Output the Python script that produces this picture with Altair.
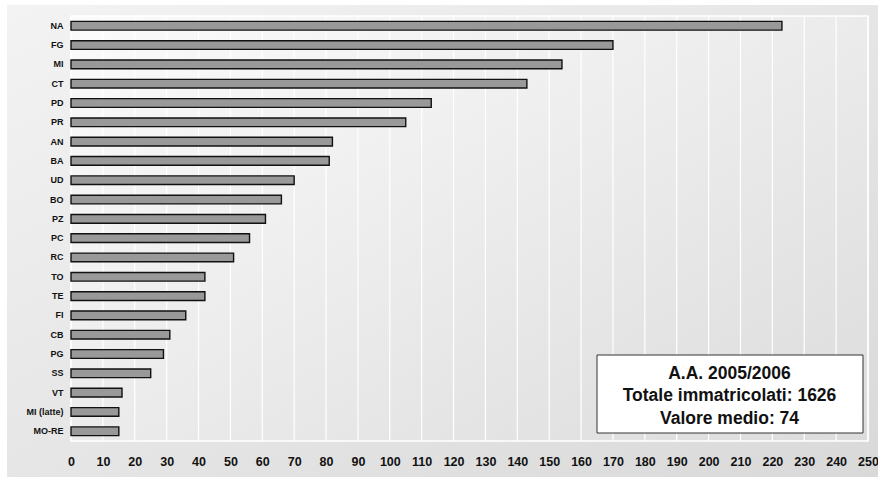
import altair as alt
import pandas as pd

# Immatricolati per sede, A.A. 2005/2006
sedi = ["NA", "FG", "MI", "CT", "PD", "PR", "AN", "BA", "UD", "BO", "PZ",
        "PC", "RC", "TO", "TE", "FI", "CB", "PG", "SS", "VT", "MI (latte)", "MO-RE"]
immatricolati = [223, 170, 154, 143, 113, 105, 82, 81, 70, 66, 61,
                 56, 51, 42, 42, 36, 31, 29, 25, 16, 15, 15]
tick_values = list(range(0, 251, 10))
info_lines = ["A.A. 2005/2006", "Totale immatricolati: 1626", "Valore medio: 74"]

W, H = 797, 425
FONT = "Liberation Sans"
NARROW = "Liberation Sans Narrow, Arial Narrow, Liberation Sans"

bars_df = pd.DataFrame({"sede": sedi, "n": immatricolati})
grid_df = pd.DataFrame({"v": tick_values})
info_df = pd.DataFrame({"line": info_lines, "row": [0, 1, 2]})

x_scale = alt.Scale(domain=[0, 250], nice=False, zero=True)
y_scale = alt.Scale(domain=sedi, paddingInner=0.55, paddingOuter=0.28)

x_axis = alt.Axis(values=tick_values, title=None, grid=False, domain=False,
                  ticks=False, labelFont=NARROW, labelFontSize=12.5,
                  labelFontWeight="bold", labelColor="#111111",
                  labelPadding=14, labelOverlap=False, labelFlush=False,
                  zindex=2)
y_axis = alt.Axis(title=None, grid=False, domain=False, ticks=False,
                  labelFont=FONT, labelFontSize=9, labelFontWeight="bold",
                  labelColor="#111111", labelPadding=8, labelOverlap=False,
                  zindex=2)

one = alt.Data(values=[{}])

outer_fill = alt.Gradient(
    gradient="linear", x1=0, y1=0, x2=1, y2=1,
    stops=[alt.GradientStop(color="#f3f3f3", offset=0),
           alt.GradientStop(color="#d9d9d9", offset=1)],
)
plot_fill = alt.Gradient(
    gradient="linear", x1=0, y1=0, x2=1, y2=1,
    stops=[alt.GradientStop(color="#fbfbfb", offset=0),
           alt.GradientStop(color="#dcdcdc", offset=1)],
)

outer = alt.Chart(one).mark_rect(fill=outer_fill, clip=False).encode(
    x=alt.value(-64), x2=alt.value(W + 10), y=alt.value(-11), y2=alt.value(H + 36)
)
panel = alt.Chart(one).mark_rect(fill=plot_fill, stroke="white", strokeWidth=1.5).encode(
    x=alt.value(0), x2=alt.value(W), y=alt.value(0), y2=alt.value(H)
)
grid = alt.Chart(grid_df).mark_rule(color="white", strokeWidth=1.2).encode(
    x=alt.X("v:Q", scale=x_scale, axis=x_axis)
)
bars = alt.Chart(bars_df).mark_bar(
    fill="#999999", stroke="#111111", strokeWidth=1.4
).encode(
    x=alt.X("n:Q", scale=x_scale, axis=x_axis),
    y=alt.Y("sede:N", scale=y_scale, sort=sedi, axis=y_axis),
)

box = alt.Chart(one).mark_rect(fill="white", stroke="#333333", strokeWidth=1).encode(
    x=alt.value(526), x2=alt.value(792), y=alt.value(339), y2=alt.value(417)
)
info = alt.Chart(info_df).mark_text(
    font=FONT, fontSize=17.5, fontWeight="bold", color="#111111", align="center",
    baseline="middle"
).encode(
    text="line:N",
    x=alt.value(658.5),
    y=alt.Y("row:Q", scale=alt.Scale(domain=[0, 2], range=[357.5, 402.5], nice=False, zero=False), axis=None),
)

chart = alt.layer(outer, panel, grid, bars, box, info).resolve_scale(y="independent").properties(
    width=W, height=H,
    autosize=alt.AutoSizeParams(type="none"),
    padding={"left": 71, "top": 16, "right": 10, "bottom": 42},
    background="white",
).configure_view(stroke=None)

chart.save("out.html", embed_options={"renderer": "svg", "actions": False})
